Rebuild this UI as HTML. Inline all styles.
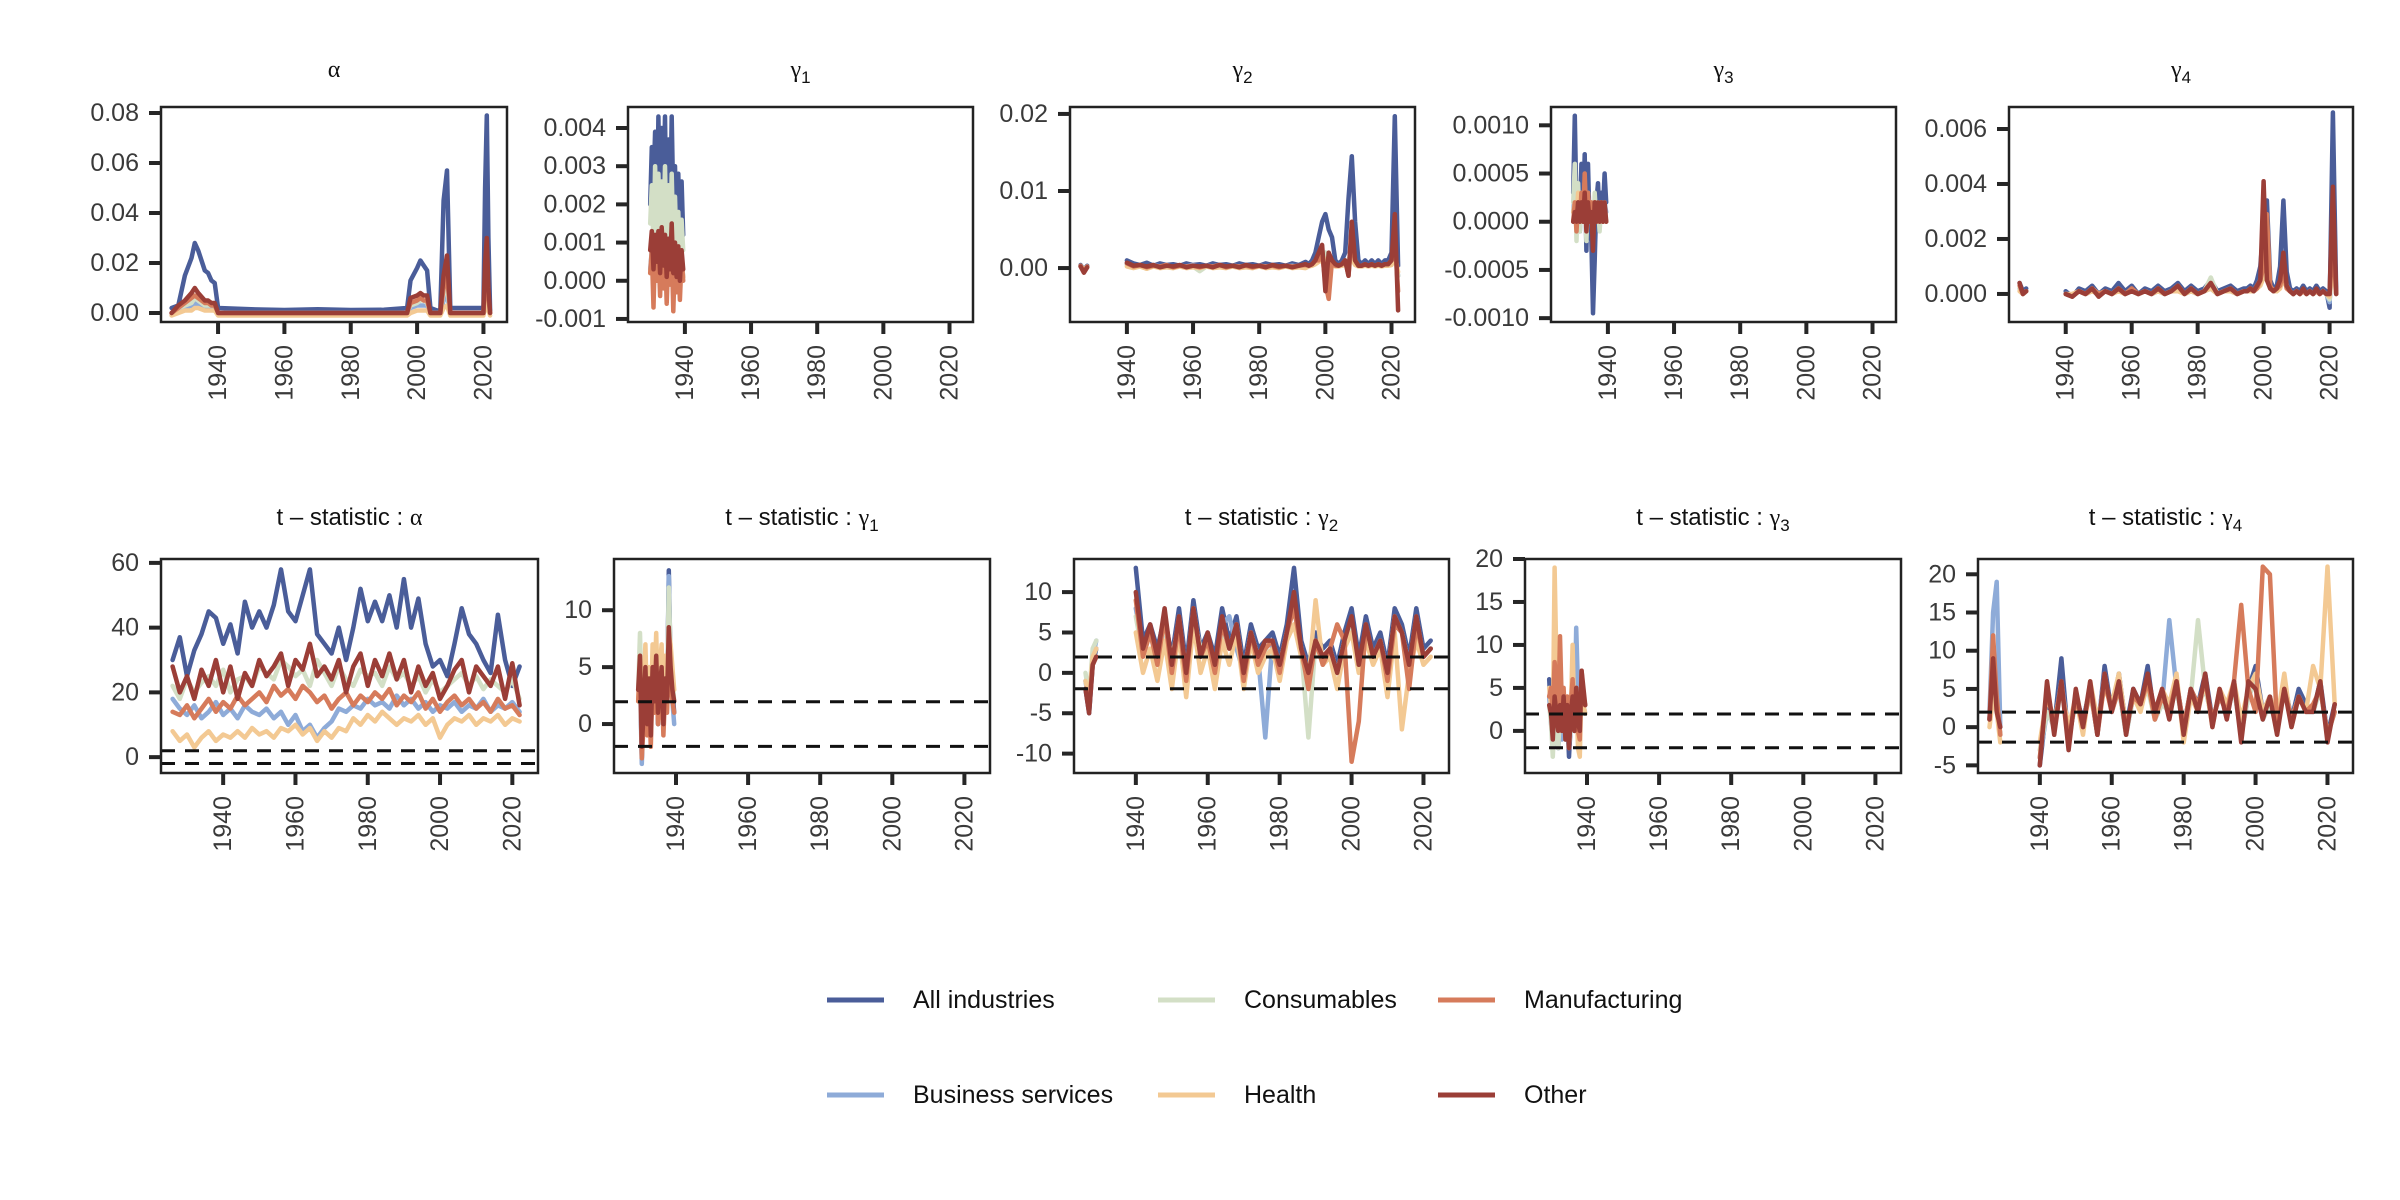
<!DOCTYPE html>
<html><head><meta charset="utf-8"><title>Rolling coefficients</title>
<style>html,body{margin:0;padding:0;background:#fff;}svg{display:block;font-family:"Liberation Sans",sans-serif;}</style>
</head><body>
<svg id="chart" width="2400" height="1200" viewBox="0 0 2400 1200" xmlns="http://www.w3.org/2000/svg">
<rect width="2400" height="1200" fill="#fff"/>
<g id="panels"></g>
<g id="legend"></g>
</svg>
<script>
// ---------- categories ----------
const seriesNames = ["All industries","Business services","Consumables","Health","Manufacturing","Other"];
const seriesKeys = ["all","bus","cons","health","manuf","other"];
const seriesColors = ["#4a5d99","#8eabd8","#d3dfc6","#f3c993","#d67b5b","#9b3e37"];
const xTickYears = [1940,1960,1980,2000,2020];
const xTickLabels = ["1940","1960","1980","2000","2020"];

// ---------- top alpha ----------
const aYears = [1926,1928,1930,1932,1933,1934,1936,1937,1938,1939,1940,1950,1960,1970,1980,1990,1997,1998,2000,2001,2002,2003,2004,2006,2007,2008,2009,2010,2012,2015,2018,2020,2020.5,2021,2021.5,2022];
const a_all   = [0.002,0.003,0.015,0.022,0.028,0.025,0.017,0.016,0.013,0.012,0.002,0.0015,0.0012,0.0015,0.0012,0.0013,0.002,0.013,0.018,0.021,0.019,0.017,0.002,0.001,0.001,0.045,0.057,0.002,0.002,0.002,0.002,0.002,0.05,0.079,0.03,0.001];
const a_bus   = [0.0,0.001,0.002,0.003,0.004,0.003,0.002,0.002,0.002,0.002,0.0,0.0,0.0,0.0,0.0,0.0,0.0,0.002,0.003,0.003,0.003,0.003,0.0,0.0,0.0,0.005,0.007,0.0,0.0,0.0,0.0,0.0,0.006,0.009,0.003,0.0];
const a_cons  = [0.0,0.002,0.003,0.004,0.006,0.005,0.003,0.003,0.003,0.003,0.0,0.0,0.0,0.0,0.0,0.0,0.0,0.003,0.004,0.005,0.005,0.004,0.0,0.0,0.0,0.008,0.01,0.0,0.0,0.0,0.0,0.0,0.008,0.012,0.004,0.0];
const a_health= [-0.001,0.0,0.001,0.001,0.002,0.002,0.001,0.001,0.001,0.001,-0.001,-0.001,-0.001,-0.001,-0.001,-0.001,-0.001,0.0,0.001,0.001,0.001,0.001,-0.001,-0.001,-0.001,0.002,0.003,-0.001,-0.001,-0.001,-0.001,-0.001,0.002,0.004,0.001,-0.001];
const a_manuf = [0.0,0.002,0.004,0.006,0.007,0.006,0.004,0.004,0.003,0.003,0.0,0.0,0.0,0.0,0.0,0.0,0.0,0.004,0.005,0.006,0.005,0.005,0.0,0.0,0.0,0.01,0.015,0.0,0.0,0.0,0.0,0.0,0.012,0.02,0.006,0.0];
const a_other = [0.0,0.003,0.005,0.008,0.010,0.008,0.005,0.005,0.004,0.004,0.0,0.0,0.0,0.0,0.0,0.0,0.0,0.006,0.007,0.008,0.007,0.007,0.0,0.0,0.0,0.015,0.023,0.0,0.0,0.0,0.0,0.0,0.02,0.030,0.01,0.0];

// ---------- short windows (1929.5-1939.5, 21 points) ----------
const shortYears = [1929.5,1930,1930.5,1931,1931.5,1932,1932.5,1933,1933.5,1934,1934.5,1935,1935.5,1936,1936.5,1937,1937.5,1938,1938.5,1939,1939.5];
const g1_all   = [0.002,0.0035,0.0025,0.0039,0.001,0.0043,0.0015,0.004,0.002,0.0043,0.001,0.0037,0.0015,0.0043,0.002,0.003,0.0012,0.0028,0.0008,0.0026,0.0012];
const g1_bus   = [0.0003,0.0008,0.0002,0.0012,0.0004,0.001,0.0001,0.0009,0.0003,0.0011,0.0002,0.0008,0.0003,0.001,0.0002,0.0007,0.0001,0.0006,0.0,0.0005,0.0001];
const g1_cons  = [0.0015,0.0025,0.0008,0.003,0.0012,0.0028,0.0009,0.0026,0.0011,0.003,0.0007,0.0025,0.0009,0.0028,0.001,0.0022,0.0007,0.0018,0.0005,0.0016,0.0008];
const g1_health= [0.0002,0.0007,0.0,0.0008,0.0003,0.0009,0.0001,0.0008,0.0002,0.0009,0.0,0.0007,0.0002,0.0008,0.0001,0.0006,0.0,0.0005,-0.0001,0.0005,0.0001];
const g1_manuf = [0.0002,0.0008,-0.0007,0.001,0.0,0.0009,-0.0004,0.0011,-0.0002,0.001,-0.0006,0.0008,-0.0001,0.0009,-0.0008,0.0007,-0.0003,0.0006,-0.0005,0.0006,0.0];
const g1_other = [0.0008,0.0013,0.0003,0.0012,0.0005,0.0013,0.0002,0.0014,0.0004,0.0012,0.0001,0.0011,0.0003,0.0015,0.0002,0.001,0.0001,0.0009,0.0,0.0008,0.0003];

const g3_all   = [0.0003,0.0011,0.0001,0.0004,-0.0001,0.0006,0.0,0.0007,-0.0003,0.0006,-0.0001,-0.0002,-0.00095,-0.0004,0.0002,0.0004,0.0,0.0003,0.0001,0.0005,0.0002];
const g3_bus   = [0.0001,0.0003,0.0,0.0002,-0.0001,0.0003,0.0,0.0003,-0.0001,0.0002,0.0,0.0001,-0.0001,0.0002,0.0,0.0002,0.0,0.0002,0.0,0.0002,0.0001];
const g3_cons  = [0.0002,0.0006,-0.0002,0.0004,-0.0001,0.0003,0.0,0.0004,-0.0002,0.0003,0.0,0.0002,-0.0002,0.0003,0.0,0.0002,-0.0001,0.0002,0.0,0.0002,0.0];
const g3_health= [0.0001,0.0002,0.0,0.0003,0.0,0.0002,0.0,0.0003,-0.0001,0.0002,0.0,0.0001,-0.0001,0.0002,0.0,0.0001,0.0,0.0001,0.0,0.0001,0.0];
const g3_manuf = [0.0,0.0002,-0.0001,0.0002,0.0,0.0003,0.0,0.0005,0.0,0.0003,0.0,0.0002,-0.0002,0.0002,0.0,0.0001,0.0,0.0002,0.0,0.0001,0.0];
const g3_other = [0.0,0.0001,0.0,0.0002,0.0,0.0002,0.0,0.0003,-0.0001,0.0002,0.0,0.0001,-0.0003,0.0002,0.0,0.0002,0.0,0.0002,0.0,0.0002,0.0];

const t1_all   = [3,5,-3,2,6,1,4,-1,5,2,6,0,3,5,1,4,2,13.5,5,3,1];
const t1_bus   = [2,4,-3.5,1,5,0,3,-1,4,2,5,1,3,4,0,3,2,13,4,2,0];
const t1_cons  = [3,8,1,4,6,2,5,0,6,3,7,1,4,6,2,5,3,12,6,4,2];
const t1_health= [2,6,-1,3,7,1,5,0,7,3,8,2,5,7,1,6,3,8,7,5,3];
const t1_manuf = [2,5,-3,0,4,-1,3,-2,4,1,5,0,2,4,-1,3,1,6,4,2,1];
const t1_other = [3,6,-2,1,5,0,4,-1,5,2,6,1,3,5,0,4,2,8.5,5,3,2];

const t3_all   = [6,2,-1,3,1,-2,2,0,3,-1,2,-3,1,3,0,4,2,1,5,3,2];
const t3_bus   = [4,1,-2,3,0,-2,2,-1,3,0,2,-2,1,3,0,12,5,3,6,4,3];
const t3_cons  = [3,1,-3,2,0,-2,2,0,3,-1,2,-2,1,3,0,4,2,1,5,3,2];
const t3_health= [5,3,0,19,8,2,6,1,4,0,3,-1,2,10,1,5,-2,-3,6,3,2];
const t3_manuf = [4,5,2,8,6,1,11,3,5,0,4,-2,3,6,1,5,0,-1,7,4,3];
const t3_other = [3,2,-1,4,2,0,3,0,4,-1,3,-2,2,4,0,5,1,0,7,5,3];

// ---------- gamma2 / gamma4 top (1926-28, gap, 1940-94 step 2, 1995-2022) ----------
function rangeYears(a,b,s){const r=[];for(let y=a;y<=b;y+=s)r.push(y);return r;}
const gapYears = [1926,1927,1928,1929.5].concat(rangeYears(1940,1994,2)).concat(rangeYears(1995,2022,1));
const g2_all   = [0.0004,-0.0002,0.0003,null, 0.001,0.0006,0.0004,0.0007,0.0003,0.0006,0.0004,0.0005,0.0003,0.0006,0.0004,0.0005,0.0003,0.0006,0.0004,0.0005,0.0003,0.0006,0.0004,0.0005,0.0003,0.0006,0.0004,0.0005,0.0003,0.0006,0.0004,0.0008, 0.0005,0.001,0.002,0.004,0.006,0.007,0.005,0.004,0.001,0.0005,0.001,0.002,0.009,0.0145,0.006,0.001,0.0005,0.001,0.0005,0.001,0.0005,0.001,0.0005,0.001,0.001,0.002,0.0197,0.0003];
const g2_bus   = [0.0002,-0.0003,0.0001,null, 0.0005,0.0002,0.0003,0.0001,0.0004,0.0002,0.0003,0.0001,0.0003,0.0002,0.0004,0.0001,0.0003,0.0002,0.0003,0.0001,0.0003,0.0002,0.0003,0.0001,0.0003,0.0002,0.0003,0.0001,0.0002,0.0003,0.0001,0.0002, 0.0003,0.0004,0.0008,0.001,0.0015,0.002,0.001,0.0008,0.0003,0.0003,0.0004,0.0006,0.001,0.002,0.0006,0.0003,0.0003,0.0004,0.0003,0.0004,0.0003,0.0004,0.0003,0.0004,0.0004,0.0006,0.002,-0.001];
const g2_cons  = [0.0003,-0.0002,0.0002,null, 0.0004,0.0001,0.0003,-0.0001,0.0003,0.0001,0.0002,0.0,0.0003,0.0001,0.0002,-0.0004,0.0002,0.0001,0.0003,0.0001,0.0002,0.0001,0.0002,0.0,0.0003,0.0001,0.0002,0.0001,0.0002,0.0001,0.0002,0.0001, 0.0003,0.0004,0.0008,0.001,0.0015,0.002,0.001,0.0008,0.0003,0.0003,0.0004,0.0006,0.001,0.002,0.0006,0.0003,0.0003,0.0004,0.0003,0.0004,0.0003,0.0004,0.0003,0.0004,0.0004,0.0006,0.002,-0.001];
const g2_health= [0.0002,-0.0001,0.0001,null, 0.0002,0.0,0.0002,-0.0001,0.0002,0.0,0.0001,0.0,0.0002,0.0,0.0001,0.0,0.0002,0.0,0.0001,0.0,0.0002,0.0,0.0001,0.0,0.0002,0.0,0.0001,0.0,0.0002,0.0,0.0001,0.0, 0.0002,0.0003,0.0005,0.0008,0.001,0.0012,0.0008,0.0005,0.0002,0.0002,0.0003,0.0004,0.0008,0.0012,0.0004,0.0002,0.0002,0.0003,0.0002,0.0003,0.0002,0.0003,0.0002,0.0003,0.0003,0.0004,0.0015,-0.0005];
const g2_manuf = [0.0003,-0.0004,0.0002,null, 0.0006,0.0002,0.0004,0.0001,0.0003,0.0002,0.0004,0.0001,0.0003,0.0002,0.0003,0.0001,0.0003,0.0002,0.0004,0.0001,0.0003,0.0002,0.0003,0.0001,0.0003,0.0002,0.0003,0.0001,0.0003,0.0002,0.0003,0.0004, 0.0003,0.0005,0.001,0.001,0.002,-0.002,-0.004,0.001,0.0003,0.0003,0.0005,0.001,-0.001,0.004,0.001,0.0003,0.0003,0.0005,0.0003,0.0005,0.0003,0.0005,0.0003,0.0005,0.0005,0.001,0.004,-0.003];
const g2_other = [0.0002,-0.0006,0.0001,null, 0.0007,0.0003,0.0004,0.0002,0.0004,0.0001,0.0003,0.0002,0.0004,0.0001,0.0003,0.0002,0.0003,0.0001,0.0004,0.0002,0.0003,0.0001,0.0004,0.0002,0.0003,0.0001,0.0004,0.0002,0.0003,0.0001,0.0003,0.0005, 0.0003,0.0005,0.001,0.002,0.003,-0.003,0.002,0.001,0.0005,0.0003,0.0005,0.001,-0.001,0.006,0.001,0.0003,0.0003,0.0005,0.0003,0.0005,0.0003,0.0005,0.0003,0.0005,0.0005,0.001,0.007,-0.0055];

const g4_all   = [0.0004,0.0001,0.0002,null, 0.0001,-0.0001,0.0002,0.0001,0.0003,0.0,0.0002,0.0001,0.0004,0.0001,0.0003,0.0,0.0002,0.0001,0.0003,0.0001,0.0002,0.0004,0.0001,0.0003,0.0001,0.0002,0.0005,0.0001,0.0002,0.0003,0.0001,0.0002, 0.0002,0.0003,0.0002,0.0005,0.001,0.0025,0.0034,0.0005,0.0002,0.0003,0.001,0.0034,0.0008,0.0002,0.0001,0.0002,0.0001,0.0003,0.0001,0.0002,0.0001,0.0003,0.0001,0.0002,0.0001,-0.0005,0.0066,0.0];
const g4_bus   = [0.0002,0.0,0.0001,null, 0.0,-0.0001,0.0001,0.0,0.0001,0.0,0.0001,0.0,0.0002,0.0,0.0001,0.0,0.0001,0.0,0.0001,0.0,0.0001,0.0002,0.0,0.0001,0.0,0.0001,0.0002,0.0,0.0001,0.0001,0.0,0.0001, 0.0001,0.0001,0.0001,0.0002,0.0004,0.0008,0.001,0.0002,0.0001,0.0001,0.0003,0.0008,0.0003,0.0001,0.0,0.0001,0.0,0.0001,0.0,0.0001,0.0,0.0001,0.0,0.0001,0.0,-0.0003,0.0015,0.0];
const g4_cons  = [0.0002,0.0,0.0001,null, 0.0,-0.0001,0.0001,0.0,0.0002,0.0,0.0001,0.0,0.0002,0.0,0.0001,0.0,0.0001,0.0,0.0002,0.0,0.0001,0.0003,0.0,0.0002,0.0,0.0001,0.0006,0.0,0.0001,0.0002,0.0,0.0001, 0.0001,0.0002,0.0001,0.0003,0.0005,0.001,0.0012,0.0002,0.0001,0.0001,0.0004,0.001,0.0003,0.0001,0.0,0.0001,0.0,0.0001,0.0,0.0001,0.0,0.0001,0.0,0.0001,0.0,-0.0002,0.002,0.0];
const g4_health= [0.0001,0.0,0.0001,null, 0.0,0.0,0.0001,0.0,0.0001,0.0,0.0001,0.0,0.0001,0.0,0.0001,0.0,0.0001,0.0,0.0001,0.0,0.0001,0.0001,0.0,0.0001,0.0,0.0001,0.0002,0.0,0.0001,0.0001,0.0,0.0001, 0.0001,0.0001,0.0001,0.0002,0.0003,0.0006,0.0008,0.0002,0.0001,0.0001,0.0002,0.0006,0.0002,0.0001,0.0,0.0001,0.0,0.0001,0.0,0.0001,0.0,0.0001,0.0,0.0001,0.0,-0.0001,0.001,0.0];
const g4_manuf = [0.0003,0.0,0.0001,null, 0.0,-0.0001,0.0001,0.0,0.0002,0.0,0.0001,0.0,0.0002,0.0,0.0002,0.0,0.0001,0.0,0.0002,0.0,0.0001,0.0003,0.0,0.0002,0.0,0.0001,0.0004,0.0,0.0001,0.0002,0.0,0.0001, 0.0001,0.0002,0.0001,0.0002,0.0005,0.001,0.0029,0.0003,0.0001,0.0002,0.0003,0.0008,0.0002,0.0001,0.0,0.0001,0.0,0.0001,0.0,0.0001,0.0,0.0001,0.0,0.0001,0.0,0.0,0.002,0.0];
const g4_other = [0.0004,0.0,0.0001,null, 0.0,-0.0001,0.0001,0.0,0.0002,-0.0001,0.0001,0.0,0.0002,0.0,0.0001,0.0,0.0001,0.0,0.0002,0.0,0.0001,0.0003,0.0,0.0002,0.0,0.0001,0.0004,0.0,0.0001,0.0002,0.0,0.0001, 0.0001,0.0002,0.0001,0.0003,0.0005,0.0041,0.0005,0.0002,0.0001,0.0002,0.0005,0.0015,0.0003,0.0001,0.0,0.0001,0.0,0.0002,0.0,0.0001,0.0,0.0002,0.0,0.0001,0.0,0.0,0.0039,0.0];

// ---------- t-stat alpha (1926-2022 step 2) ----------
const tYears = rangeYears(1926,2022,2);
const tA_all   = [30,37,25,33,38,45,43,35,41,32,48,40,45,40,47,58,45,42,50,58,38,35,32,40,30,40,52,42,48,42,50,40,55,40,49,35,28,30,25,35,46,38,35,30,26,44,30,22,28];
const tA_bus   = [18,15,13,16,12,14,17,13,15,12,16,14,13,15,12,14,10,13,8,10,6,9,11,15,14,16,15,18,16,17,15,19,16,18,15,17,14,16,15,17,14,16,15,18,14,16,15,17,14];
const tA_cons  = [22,18,24,20,23,25,22,27,20,24,25,22,28,26,24,30,28,25,27,22,30,26,22,28,24,22,27,25,26,22,28,24,26,22,25,20,24,20,22,24,26,22,25,21,24,22,20,24,18];
const tA_health= [8,5,7,3,6,8,5,7,6,8,6,9,7,8,6,9,8,10,7,9,5,8,6,9,8,12,10,13,11,14,12,10,12,11,13,10,12,6,10,12,11,13,10,12,11,13,10,12,11];
const tA_manuf = [14,13,16,12,15,18,14,17,15,19,16,18,20,17,22,19,21,18,22,20,17,19,15,18,20,16,19,17,20,18,21,16,19,17,20,15,18,14,17,19,16,18,15,17,14,18,15,16,13];
const tA_other = [28,20,25,18,27,22,30,20,28,18,26,22,30,25,28,32,22,30,27,35,25,28,24,30,20,28,32,22,30,25,32,24,30,20,28,22,26,18,22,27,30,20,28,25,22,28,18,29,16];

// ---------- t-stat gamma2 / gamma4 (1926-29, gap, 1940-2022 step 2) ----------
const tGapYears = [1926,1927,1928,1929,1930].concat(rangeYears(1940,2022,2));
const t2_all   = [-2,-5,1,3,null, 13,4,6,3,7,2,8,1,9,3,5,2,8,4,7,1,6,3,4,5,2,6,13,4,1,5,3,4,1,5,8,2,7,3,5,1,8,6,2,8,3,4];
const t2_bus   = [-1,-4,2,4,null, 8,3,5,2,6,1,7,0,8,2,4,1,6,7,3,0,5,2,-8,4,1,5,9,3,0,4,2,3,0,4,6,1,5,2,4,0,6,5,1,7,2,3];
const t2_cons  = [0,-3,3,4,null, 7,2,5,1,6,2,6,0,7,3,4,1,5,3,6,0,5,2,3,2,1,5,8,3,-8,4,2,3,0,4,6,1,5,2,4,0,7,5,1,6,2,3];
const t2_health= [-1,-3,2,3,null, 5,0,3,-1,4,-2,5,-3,6,0,3,-2,4,1,5,-2,4,0,2,3,-1,4,6,2,-1,9,1,2,-2,3,5,0,4,1,3,-3,5,-7,0,4,1,2];
const t2_manuf = [-2,-4,1,2,null, 9,2,5,1,7,0,6,-1,8,2,4,0,6,3,6,-1,5,1,3,4,0,5,8,3,-2,4,1,3,6,4,-11,-6,6,2,4,-1,6,5,-2,6,2,3];
const t2_other = [-2,-5,1,2,null, 10,3,6,2,8,1,7,0,8,2,5,1,7,3,6,0,5,2,4,4,1,5,10,3,0,4,2,3,0,4,7,1,6,2,4,0,7,5,1,7,2,3];

const t4_all   = [1,9,3,-1,null, -5,3,0,9,-2,4,1,5,-1,8,2,7,0,5,3,8,1,4,2,6,0,5,3,7,1,4,2,6,-1,5,8,2,4,0,6,1,5,3,2,6,-1,3];
const t4_bus   = [2,15,19,0,null, -4,2,0,6,-1,3,1,5,0,7,2,5,-1,4,3,6,1,3,14,5,0,4,3,5,1,4,2,5,-1,4,6,1,3,0,5,1,4,2,2,5,-1,2];
const t4_cons  = [1,5,3,-1,null, -3,2,0,5,-1,3,1,4,0,6,2,5,-1,4,3,5,1,3,2,5,0,4,14,5,1,4,2,5,-1,4,6,1,3,0,5,1,4,2,2,5,-1,2];
const t4_health= [0,4,2,-2,null, -2,4,1,5,0,4,-1,6,1,5,3,7,0,4,2,6,1,5,3,7,-2,4,2,6,0,5,3,6,1,5,7,2,4,1,7,0,4,2,8,5,21,3];
const t4_manuf = [1,12,4,-1,null, -4,5,0,6,-2,4,0,5,-1,6,2,5,0,4,3,6,1,4,2,6,0,5,3,6,1,4,2,6,16,5,2,21,20,0,5,1,4,2,3,5,-1,2];
const t4_other = [1,9,2,0,null, -5,6,-1,6,-3,5,0,6,-1,7,2,6,-1,5,3,7,2,5,1,6,-1,5,2,7,0,5,1,6,-2,6,5,1,4,-1,5,0,4,2,2,6,-2,3];

// ---------- axis tick values / labels ----------
const ytA = [0,0.02,0.04,0.06,0.08], ylA = ["0.00","0.02","0.04","0.06","0.08"];
const yt1 = [-0.001,0,0.001,0.002,0.003,0.004], yl1 = ["-0.001","0.000","0.001","0.002","0.003","0.004"];
const yt2 = [0,0.01,0.02], yl2 = ["0.00","0.01","0.02"];
const yt3 = [-0.001,-0.0005,0,0.0005,0.001], yl3 = ["-0.0010","-0.0005","0.0000","0.0005","0.0010"];
const yt4 = [0,0.002,0.004,0.006], yl4 = ["0.000","0.002","0.004","0.006"];
const ytbA = [0,20,40,60], ylbA = ["0","20","40","60"];
const ytb1 = [0,5,10], ylb1 = ["0","5","10"];
const ytb2 = [-10,-5,0,5,10], ylb2 = ["-10","-5","0","5","10"];
const ytb3 = [0,5,10,15,20], ylb3 = ["0","5","10","15","20"];
const ytb4 = [-5,0,5,10,15,20], ylb4 = ["-5","0","5","10","15","20"];
const critValues = [1.96,-1.96];

const NS = "http://www.w3.org/2000/svg";
const X_DOMAIN = [1922.8, 2027.1];
function mk(tag, attrs, parent){const e=document.createElementNS(NS,tag);for(const k in attrs)e.setAttribute(k,attrs[k]);if(parent)parent.appendChild(e);return e;}

const panels = [
 {name:"alpha",sym:"α",sub:"",t:false,box:[161,107,507,322],yd:[-0.0036,0.0824],yt:ytA,yl:ylA,x:aYears,s:[a_all,a_bus,a_cons,a_health,a_manuf,a_other]},
 {name:"gamma1",sym:"γ",sub:"1",t:false,box:[628,107,973,322],yd:[-0.00108,0.00455],yt:yt1,yl:yl1,x:shortYears,s:[g1_all,g1_bus,g1_cons,g1_health,g1_manuf,g1_other]},
 {name:"gamma2",sym:"γ",sub:"2",t:false,box:[1070,107,1415,322],yd:[-0.0070,0.0209],yt:yt2,yl:yl2,x:gapYears,s:[g2_all,g2_bus,g2_cons,g2_health,g2_manuf,g2_other]},
 {name:"gamma3",sym:"γ",sub:"3",t:false,box:[1551,107,1896,322],yd:[-0.00104,0.00119],yt:yt3,yl:yl3,x:shortYears,s:[g3_all,g3_bus,g3_cons,g3_health,g3_manuf,g3_other]},
 {name:"gamma4",sym:"γ",sub:"4",t:false,box:[2009,107,2353,322],yd:[-0.00102,0.0068],yt:yt4,yl:yl4,x:gapYears,s:[g4_all,g4_bus,g4_cons,g4_health,g4_manuf,g4_other]},
 {name:"tstat-alpha",sym:"α",sub:"",t:true,box:[161,559,538,773],yd:[-4.9,61.2],yt:ytbA,yl:ylbA,x:tYears,s:[tA_all,tA_bus,tA_cons,tA_health,tA_manuf,tA_other]},
 {name:"tstat-gamma1",sym:"γ",sub:"1",t:true,box:[614,559,990,773],yd:[-4.3,14.5],yt:ytb1,yl:ylb1,x:shortYears,s:[t1_all,t1_bus,t1_cons,t1_health,t1_manuf,t1_other]},
 {name:"tstat-gamma2",sym:"γ",sub:"2",t:true,box:[1074,559,1449,773],yd:[-12.4,14.1],yt:ytb2,yl:ylb2,x:tGapYears,s:[t2_all,t2_bus,t2_cons,t2_health,t2_manuf,t2_other]},
 {name:"tstat-gamma3",sym:"γ",sub:"3",t:true,box:[1525,559,1901,773],yd:[-4.9,20],yt:ytb3,yl:ylb3,x:shortYears,s:[t3_all,t3_bus,t3_cons,t3_health,t3_manuf,t3_other]},
 {name:"tstat-gamma4",sym:"γ",sub:"4",t:true,box:[1978,559,2353,773],yd:[-6.0,22.0],yt:ytb4,yl:ylb4,x:tGapYears,s:[t4_all,t4_bus,t4_cons,t4_health,t4_manuf,t4_other]}
];

const root = document.getElementById("panels");
panels.forEach(p=>{
  const [x0,y0,x1,y1]=p.box;
  const sx = v => x0 + (v - X_DOMAIN[0])/(X_DOMAIN[1]-X_DOMAIN[0])*(x1-x0);
  const sy = v => y1 - (v - p.yd[0])/(p.yd[1]-p.yd[0])*(y1-y0);
  const g = mk("g",{},root);
  
  
  const tt = mk("text",{x:(x0+x1)/2,y:p.t?y0-34:y0-30,"text-anchor":"middle","font-size":"24",fill:"#111"},g);
  
  
  if(p.t){const a=mk("tspan",{},tt);a.textContent="t – statistic : ";}
  const s1=mk("tspan",{"font-family":"Liberation Serif, DejaVu Serif, serif"},tt);s1.textContent=p.sym;
  if(p.sub){const s2=mk("tspan",{"font-size":"17",dy:"6"},tt);s2.textContent=p.sub;}
  const clipId="clip-"+p.name;
  const cp=mk("clipPath",{id:clipId},g);mk("rect",{x:x0,y:y0,width:x1-x0,height:y1-y0},cp);
  const plot=mk("g",{"clip-path":"url(#"+clipId+")"},g);
  
  
  p.s.forEach((vals,i)=>{
    let d="",pen=false;
    vals.forEach((v,j)=>{
      if(v===null||v===undefined){pen=false;return;}
      d+=(pen?"L":"M")+sx(p.x[j]).toFixed(1)+","+sy(v).toFixed(1);pen=true;
    });
    const path=mk("path",{d:d,fill:"none",stroke:seriesColors[i],"stroke-width":"4.5","stroke-linejoin":"round","stroke-linecap":"round"},plot);
    
    
  });
  if(p.t){
    critValues.forEach((c,k)=>{
      const l=mk("line",{x1:x0,x2:x1,y1:sy(c),y2:sy(c),stroke:"#111","stroke-width":"3","stroke-dasharray":"14,10"},plot);
      
      
    });
  }
  const fr=mk("rect",{x:x0,y:y0,width:x1-x0,height:y1-y0,fill:"none",stroke:"#222","stroke-width":"2.5"},g);
  
  
  p.yt.forEach((v,k)=>{
    const y=sy(v);
    const tk=mk("line",{x1:x0-12,x2:x0,y1:y,y2:y,stroke:"#262626","stroke-width":"4"},g);
    
    
    const lb=mk("text",{x:x0-22,y:y,"text-anchor":"end","dominant-baseline":"central","font-size":"25",fill:"#3a3a3a"},g);
    lb.textContent=p.yl[k];
    
    
  });
  xTickYears.forEach((yr,k)=>{
    const x=sx(yr);
    const tk=mk("line",{x1:x,x2:x,y1:y1,y2:y1+12,stroke:"#262626","stroke-width":"4"},g);
    
    
    const ly=y1+23;
    const lb=mk("text",{x:x,y:ly,"text-anchor":"end","dominant-baseline":"central","font-size":"25",fill:"#3a3a3a",transform:"rotate(-90 "+x+" "+ly+")"},g);
    lb.textContent=xTickLabels[k];
    
    
  });
});

const legRoot=document.getElementById("legend");
const legCols=[827,1158,1438], legRows=[1000,1095];
seriesNames.forEach((nm,i)=>{
  const cx=legCols[Math.floor(i/2)], cy=legRows[i%2];
  const g=mk("g",{},legRoot);
  
  
  mk("line",{x1:cx,x2:cx+57,y1:cy,y2:cy,stroke:seriesColors[i],"stroke-width":"5"},g);
  const t=mk("text",{x:cx+86,y:cy,"dominant-baseline":"central","font-size":"25",fill:"#111"},g);
  t.textContent=nm;
});
</script>
</body></html>
